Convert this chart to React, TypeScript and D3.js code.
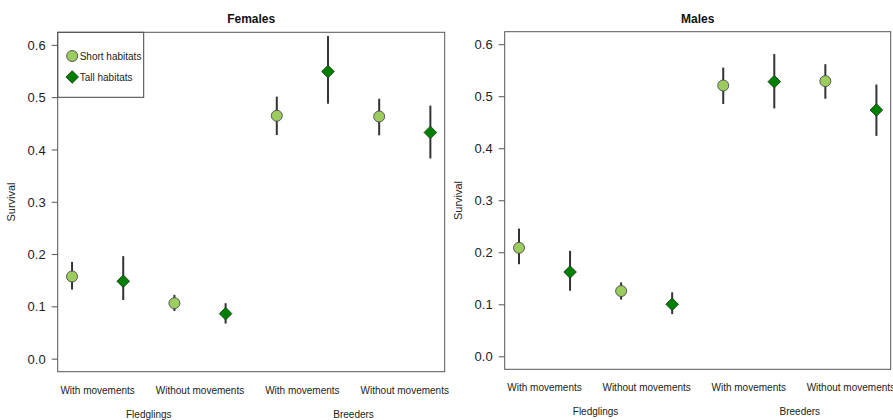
import React from "react";
import * as d3 from "d3";

const categories = ["With movements", "Without movements", "With movements", "Without movements"];
const groups = ["Fledglings", "Breeders"];
const series = ["Short habitats", "Tall habitats"];
const yTicks = [0, 0.1, 0.2, 0.3, 0.4, 0.5, 0.6];

// order: [short, tall] for each category
const femalesEst = [0.158, 0.149, 0.107, 0.087, 0.4655, 0.55, 0.464, 0.4335];
const femalesLo = [0.133, 0.113, 0.092, 0.068, 0.4285, 0.4885, 0.428, 0.3837];
const femalesHi = [0.186, 0.197, 0.123, 0.107, 0.502, 0.618, 0.498, 0.4847];

const malesEst = [0.2095, 0.163, 0.1264, 0.101, 0.5216, 0.529, 0.53, 0.4745];
const malesLo = [0.178, 0.127, 0.11, 0.082, 0.486, 0.4775, 0.496, 0.4247];
const malesHi = [0.2465, 0.2037, 0.143, 0.124, 0.556, 0.582, 0.5626, 0.5235];

const SHORT_FILL = "#9ccc5e";
const TALL_FILL = "#008000";
const FONT = "'Liberation Sans', Arial, Helvetica, sans-serif";

type PanelProps = {
  title: string;
  est: number[];
  lo: number[];
  hi: number[];
  left: number;
  right: number;
  top: number;
  bottom: number;
  legend?: boolean;
};

function Marker({ x, y, kind }: { x: number; y: number; kind: number }) {
  if (kind === 0) {
    return <circle cx={x} cy={y} r={5.5} fill={SHORT_FILL} stroke="#4a4a4a" strokeWidth={0.9} />;
  }
  const s = 6.3;
  return (
    <path
      d={`M${x},${y - s}L${x + s},${y}L${x},${y + s}L${x - s},${y}Z`}
      fill={TALL_FILL}
      stroke="#1f3d1f"
      strokeWidth={0.9}
    />
  );
}

function Panel({ title, est, lo, hi, left, right, top, bottom, legend }: PanelProps) {
  const x = d3.scaleLinear().domain([0.72, 8.28]).range([left, right]);
  const y = d3.scaleLinear().domain([-0.024, 0.625]).range([bottom, top]);
  const cx = (left + right) / 2;
  const cy = (top + bottom) / 2;
  return (
    <g fontFamily={FONT}>
      <text x={cx} y={23} textAnchor="middle" fontSize={12} fontWeight="bold" fill="#111">
        {title}
      </text>
      {yTicks.map((t) => (
        <g key={t}>
          <line x1={left - 6} x2={left} y1={y(t)} y2={y(t)} stroke="#555" strokeWidth={1} />
          <text x={left - 12} y={y(t)} dy="0.35em" textAnchor="end" fontSize={13} fill="#222">
            {d3.format(".1f")(t)}
          </text>
        </g>
      ))}
      <text
        transform={`translate(${left - 43},${cy}) rotate(-90)`}
        textAnchor="middle"
        fontSize={11}
        fill="#222"
      >
        Survival
      </text>
      {categories.map((c, i) => (
        <text key={i} x={x(i * 2 + 1.5)} y={bottom + 22} textAnchor="middle" fontSize={10} fill="#222">
          {c}
        </text>
      ))}
      {groups.map((g, i) => (
        <text key={g} x={x(i * 4 + 2.5)} y={bottom + 46} textAnchor="middle" fontSize={10} fill="#222">
          {g}
        </text>
      ))}
      {est.map((v, i) => (
        <g key={i}>
          <line x1={x(i + 1)} x2={x(i + 1)} y1={y(lo[i])} y2={y(hi[i])} stroke="#333" strokeWidth={2} />
          <Marker x={x(i + 1)} y={y(v)} kind={i % 2} />
        </g>
      ))}
      {legend && (
        <g>
          <rect x={left} y={top} width={86} height={65} fill="white" stroke="#444" strokeWidth={1} />
          {series.map((s, i) => (
            <g key={s}>
              <Marker x={left + 14.5} y={top + 23.7 + i * 21} kind={i} />
              <text x={left + 22} y={top + 23.7 + i * 21} dy="0.35em" fontSize={10} fill="#222">
                {s}
              </text>
            </g>
          ))}
        </g>
      )}
      <rect x={left} y={top} width={right - left} height={bottom - top} fill="none" stroke="#555" strokeWidth={1} />
    </g>
  );
}

export default function App() {
  return (
    <svg width={893} height={420} style={{ position: "absolute", left: 0, top: 0, background: "white" }}>
      <Panel title="Females" est={femalesEst} lo={femalesLo} hi={femalesHi} left={57.7} right={444.7} top={32.3} bottom={371.7} legend />
      <Panel title="Males" est={malesEst} lo={malesLo} hi={malesHi} left={504.7} right={890.7} top={31.7} bottom={369.3} />
    </svg>
  );
}
